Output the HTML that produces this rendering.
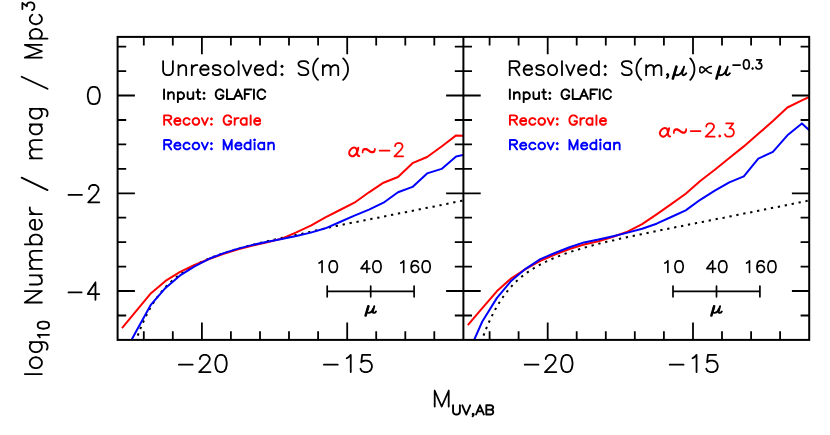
<!DOCTYPE html>
<html><head><meta charset="utf-8"><title>plot</title>
<style>
html,body{margin:0;padding:0;background:#fff;}
body{width:830px;height:435px;overflow:hidden;}
svg{display:block;font-family:"Liberation Sans",sans-serif;}
</style></head><body>
<svg width="830" height="435" viewBox="0 0 830 435">
<rect width="830" height="435" fill="#fff"/>
<defs>
<clipPath id="cl"><rect x="117.6" y="36.9" width="345.8" height="303.0"/></clipPath>
<clipPath id="cr"><rect x="463.4" y="36.9" width="345.8" height="303.0"/></clipPath>
</defs>
<g clip-path="url(#cl)" fill="none" stroke-width="2" stroke-linejoin="round">
<polyline points="117.6,403.1 119.0,396.8 120.5,390.8 121.9,385.0 123.4,379.4 124.8,374.2 126.3,369.1 127.7,364.2 129.2,359.6 130.6,355.1 132.1,350.9 133.5,346.8 135.0,342.9 136.4,339.1 137.9,335.2 139.3,331.5 140.7,327.9 142.2,324.5 143.6,321.2 145.1,318.1 146.5,315.1 148.0,312.3 149.4,309.6 150.9,307.0 152.3,304.6 153.8,302.3 155.2,300.1 156.7,298.0 158.1,296.0 159.6,294.1 161.0,292.3 162.5,290.6 163.9,288.9 165.3,287.3 166.8,285.8 168.2,284.4 169.7,283.0 171.1,281.7 172.6,280.4 174.0,279.1 175.5,277.9 176.9,276.8 178.4,275.6 179.8,274.6 181.3,273.5 182.7,272.5 184.2,271.5 185.6,270.6 187.0,269.7 188.5,268.8 189.9,267.9 191.4,267.1 192.8,266.3 194.3,265.5 195.7,264.8 197.2,264.0 198.6,263.3 200.1,262.6 201.5,261.9 203.0,261.2 204.4,260.6 205.9,259.9 207.3,259.3 208.8,258.7 210.2,258.1 211.6,257.5 213.1,257.0 214.5,256.4 216.0,255.9 217.4,255.3 218.9,254.8 220.3,254.3 221.8,253.8 223.2,253.3 224.7,252.8 226.1,252.3 227.6,251.9 229.0,251.4 230.5,251.0 231.9,250.5 233.3,250.1 234.8,249.6 236.2,249.2 237.7,248.8 239.1,248.4 240.6,248.0 242.0,247.6 243.5,247.2 244.9,246.8 246.4,246.4 247.8,246.0 249.3,245.6 250.7,245.3 252.2,244.9 253.6,244.5 255.1,244.2 256.5,243.8 257.9,243.4 259.4,243.1 260.8,242.7 262.3,242.4 263.7,242.1 265.2,241.7 266.6,241.4 268.1,241.1 269.5,240.7 271.0,240.4 272.4,240.1 273.9,239.7 275.3,239.4 276.8,239.1 278.2,238.8 279.6,238.5 281.1,238.1 282.5,237.8 284.0,237.5 285.4,237.2 286.9,236.9 288.3,236.6 289.8,236.3 291.2,236.0 292.7,235.7 294.1,235.4 295.6,235.1 297.0,234.8 298.5,234.5 299.9,234.2 301.4,233.9 302.8,233.6 304.2,233.3 305.7,232.9 307.1,232.6 308.6,232.2 310.0,231.9 311.5,231.6 312.9,231.2 314.4,230.9 315.8,230.5 317.3,230.2 318.7,229.9 320.2,229.5 321.6,229.2 323.1,228.9 324.5,228.5 325.9,228.2 327.4,227.9 328.8,227.5 330.3,227.2 331.7,226.9 333.2,226.5 334.6,226.3 336.1,226.0 337.5,225.7 339.0,225.4 340.4,225.1 341.9,224.8 343.3,224.5 344.8,224.2 346.2,224.0 347.7,223.7 349.1,223.4 350.5,223.1 352.0,222.8 353.4,222.5 354.9,222.2 356.3,222.0 357.8,221.7 359.2,221.4 360.7,221.1 362.1,220.8 363.6,220.5 365.0,220.2 366.5,220.0 367.9,219.7 369.4,219.4 370.8,219.1 372.2,218.8 373.7,218.5 375.1,218.2 376.6,217.9 378.0,217.7 379.5,217.4 380.9,217.1 382.4,216.8 383.8,216.5 385.3,216.2 386.7,215.9 388.2,215.7 389.6,215.4 391.1,215.1 392.5,214.8 394.0,214.5 395.4,214.2 396.8,213.9 398.3,213.6 399.7,213.3 401.2,213.1 402.6,212.8 404.1,212.5 405.5,212.2 407.0,211.9 408.4,211.6 409.9,211.3 411.3,211.0 412.8,210.7 414.2,210.5 415.7,210.2 417.1,209.9 418.5,209.6 420.0,209.3 421.4,209.0 422.9,208.7 424.3,208.4 425.8,208.1 427.2,207.8 428.7,207.5 430.1,207.2 431.6,207.0 433.0,206.7 434.5,206.4 435.9,206.1 437.4,205.8 438.8,205.5 440.3,205.2 441.7,204.9 443.1,204.6 444.6,204.3 446.0,204.0 447.5,203.7 448.9,203.4 450.4,203.1 451.8,202.8 453.3,202.5 454.7,202.2 456.2,201.9 457.6,201.6 459.1,201.3 460.5,201.1 462.0,200.8 463.4,200.5" stroke="#000" stroke-dasharray="2.3 4.75"/>
<polyline points="122.0,328.2 136.5,310.7 151.0,293.2 165.5,280.9 180.1,271.8 194.6,265.0 209.1,259.0 223.7,253.8 238.2,249.4 252.7,245.5 267.3,242.2 281.8,238.6 296.3,232.4 310.8,225.6 325.4,217.3 339.9,210.0 354.4,202.7 369.0,192.3 383.5,182.7 398.0,177.0 412.5,163.2 427.1,157.0 441.6,146.5 456.1,135.4 470.7,136.0" stroke="#f00"/>
<polyline points="122.0,357.3 136.5,330.8 151.0,304.6 165.5,287.9 180.1,275.4 194.6,266.3 209.1,258.8 223.7,253.1 238.2,248.6 252.7,244.9 267.3,241.7 281.8,238.9 296.3,236.0 310.8,232.6 325.4,228.3 339.9,222.0 354.4,215.6 369.0,209.6 383.5,202.7 398.0,192.3 412.5,186.9 427.1,173.4 441.6,168.9 456.1,156.4 470.7,153.5" stroke="#00f"/>
</g>
<path d="M143.8 339.9v-8.6 M143.8 36.9v8.6 M172.8 339.9v-8.6 M172.8 36.9v8.6 M201.9 339.9v-17.3 M201.9 36.9v17.3 M230.9 339.9v-8.6 M230.9 36.9v8.6 M260.0 339.9v-8.6 M260.0 36.9v8.6 M289.0 339.9v-8.6 M289.0 36.9v8.6 M318.1 339.9v-8.6 M318.1 36.9v8.6 M347.2 339.9v-17.3 M347.2 36.9v17.3 M376.2 339.9v-8.6 M376.2 36.9v8.6 M405.3 339.9v-8.6 M405.3 36.9v8.6 M434.3 339.9v-8.6 M434.3 36.9v8.6 M117.6 46.7h8.6 M463.4 46.7h-8.6 M117.6 71.1h8.6 M463.4 71.1h-8.6 M117.6 95.5h17.3 M463.4 95.5h-17.3 M117.6 120.0h8.6 M463.4 120.0h-8.6 M117.6 144.4h8.6 M463.4 144.4h-8.6 M117.6 168.9h8.6 M463.4 168.9h-8.6 M117.6 193.3h17.3 M463.4 193.3h-17.3 M117.6 217.7h8.6 M463.4 217.7h-8.6 M117.6 242.2h8.6 M463.4 242.2h-8.6 M117.6 266.6h8.6 M463.4 266.6h-8.6 M117.6 291.0h17.3 M463.4 291.0h-17.3 M117.6 315.5h8.6 M463.4 315.5h-8.6" stroke="#000" stroke-width="1.8" fill="none"/>
<g clip-path="url(#cr)" fill="none" stroke-width="2" stroke-linejoin="round">
<polyline points="463.4,403.1 464.8,396.8 466.3,390.8 467.7,385.0 469.2,379.4 470.6,374.2 472.1,369.1 473.5,364.2 475.0,359.6 476.4,355.1 477.9,350.9 479.3,346.8 480.8,342.9 482.2,339.1 483.7,335.2 485.1,331.5 486.5,327.9 488.0,324.5 489.4,321.2 490.9,318.1 492.3,315.1 493.8,312.3 495.2,309.6 496.7,307.0 498.1,304.5 499.6,302.2 501.0,299.9 502.5,297.8 503.9,295.7 505.4,293.7 506.8,291.9 508.3,290.1 509.7,288.3 511.1,286.7 512.6,285.1 514.0,283.6 515.5,282.2 516.9,280.8 518.4,279.5 519.8,278.2 521.3,277.0 522.7,275.9 524.2,274.7 525.6,273.7 527.1,272.6 528.5,271.6 530.0,270.6 531.4,269.7 532.8,268.8 534.3,267.9 535.7,267.0 537.2,266.2 538.6,265.4 540.1,264.6 541.5,263.9 543.0,263.1 544.4,262.4 545.9,261.7 547.3,261.0 548.8,260.3 550.2,259.7 551.7,259.0 553.1,258.4 554.6,257.8 556.0,257.2 557.4,256.6 558.9,256.1 560.3,255.5 561.8,255.0 563.2,254.4 564.7,253.9 566.1,253.4 567.6,252.9 569.0,252.4 570.5,251.9 571.9,251.4 573.4,251.0 574.8,250.5 576.3,250.1 577.7,249.6 579.1,249.2 580.6,248.7 582.0,248.3 583.5,247.9 584.9,247.5 586.4,247.1 587.8,246.7 589.3,246.3 590.7,245.9 592.2,245.5 593.6,245.1 595.1,244.7 596.5,244.4 598.0,244.0 599.4,243.6 600.9,243.3 602.3,242.9 603.7,242.5 605.2,242.2 606.6,241.8 608.1,241.5 609.5,241.2 611.0,240.8 612.4,240.5 613.9,240.2 615.3,239.8 616.8,239.5 618.2,239.2 619.7,238.8 621.1,238.5 622.6,238.2 624.0,237.9 625.4,237.6 626.9,237.2 628.3,236.9 629.8,236.6 631.2,236.3 632.7,236.0 634.1,235.7 635.6,235.4 637.0,235.1 638.5,234.8 639.9,234.5 641.4,234.2 642.8,233.9 644.3,233.6 645.7,233.3 647.2,233.0 648.6,232.7 650.0,232.4 651.5,232.1 652.9,231.8 654.4,231.5 655.8,231.2 657.3,230.9 658.7,230.6 660.2,230.3 661.6,230.0 663.1,229.7 664.5,229.4 666.0,229.1 667.4,228.9 668.9,228.6 670.3,228.3 671.7,228.0 673.2,227.7 674.6,227.4 676.1,227.1 677.5,226.8 679.0,226.5 680.4,226.3 681.9,226.0 683.3,225.7 684.8,225.4 686.2,225.1 687.7,224.8 689.1,224.5 690.6,224.2 692.0,224.0 693.5,223.7 694.9,223.4 696.3,223.1 697.8,222.8 699.2,222.5 700.7,222.2 702.1,222.0 703.6,221.7 705.0,221.4 706.5,221.1 707.9,220.8 709.4,220.5 710.8,220.2 712.3,220.0 713.7,219.7 715.2,219.4 716.6,219.1 718.0,218.8 719.5,218.5 720.9,218.2 722.4,217.9 723.8,217.7 725.3,217.4 726.7,217.1 728.2,216.8 729.6,216.5 731.1,216.2 732.5,215.9 734.0,215.7 735.4,215.4 736.9,215.1 738.3,214.8 739.8,214.5 741.2,214.2 742.6,213.9 744.1,213.6 745.5,213.3 747.0,213.1 748.4,212.8 749.9,212.5 751.3,212.2 752.8,211.9 754.2,211.6 755.7,211.3 757.1,211.0 758.6,210.7 760.0,210.5 761.5,210.2 762.9,209.9 764.3,209.6 765.8,209.3 767.2,209.0 768.7,208.7 770.1,208.4 771.6,208.1 773.0,207.8 774.5,207.5 775.9,207.2 777.4,207.0 778.8,206.7 780.3,206.4 781.7,206.1 783.2,205.8 784.6,205.5 786.1,205.2 787.5,204.9 788.9,204.6 790.4,204.3 791.8,204.0 793.3,203.7 794.7,203.4 796.2,203.1 797.6,202.8 799.1,202.5 800.5,202.2 802.0,201.9 803.4,201.6 804.9,201.3 806.3,201.1 807.8,200.8 809.2,200.5" stroke="#000" stroke-dasharray="2.3 4.75"/>
<polyline points="467.8,325.1 482.3,308.2 496.8,291.3 511.3,278.3 525.9,268.8 540.4,260.9 554.9,254.6 569.5,249.0 584.0,244.5 598.5,241.2 613.1,236.8 627.6,231.7 642.1,224.2 656.6,214.4 671.2,204.1 685.7,193.8 700.2,181.0 714.8,169.7 729.3,158.0 743.8,146.4 758.3,133.8 772.9,121.0 787.4,107.5 801.9,100.3 816.5,93.6" stroke="#f00"/>
<polyline points="467.8,354.2 482.3,321.5 496.8,298.1 511.3,280.7 525.9,268.6 540.4,259.1 554.9,253.0 569.5,247.2 584.0,242.4 598.5,239.5 613.1,236.2 627.6,232.6 642.1,228.7 656.6,223.7 671.2,217.0 685.7,210.4 700.2,199.8 714.8,190.7 729.3,182.3 743.8,176.3 758.3,158.7 772.9,151.8 787.4,135.3 801.9,123.4 816.5,136.7" stroke="#00f"/>
</g>
<path d="M489.6 339.9v-8.6 M489.6 36.9v8.6 M518.6 339.9v-8.6 M518.6 36.9v8.6 M547.7 339.9v-17.3 M547.7 36.9v17.3 M576.7 339.9v-8.6 M576.7 36.9v8.6 M605.8 339.9v-8.6 M605.8 36.9v8.6 M634.8 339.9v-8.6 M634.8 36.9v8.6 M663.9 339.9v-8.6 M663.9 36.9v8.6 M693.0 339.9v-17.3 M693.0 36.9v17.3 M722.0 339.9v-8.6 M722.0 36.9v8.6 M751.1 339.9v-8.6 M751.1 36.9v8.6 M780.1 339.9v-8.6 M780.1 36.9v8.6 M463.4 46.7h8.6 M809.2 46.7h-8.6 M463.4 71.1h8.6 M809.2 71.1h-8.6 M463.4 95.5h17.3 M809.2 95.5h-17.3 M463.4 120.0h8.6 M809.2 120.0h-8.6 M463.4 144.4h8.6 M809.2 144.4h-8.6 M463.4 168.9h8.6 M809.2 168.9h-8.6 M463.4 193.3h17.3 M809.2 193.3h-17.3 M463.4 217.7h8.6 M809.2 217.7h-8.6 M463.4 242.2h8.6 M809.2 242.2h-8.6 M463.4 266.6h8.6 M809.2 266.6h-8.6 M463.4 291.0h17.3 M809.2 291.0h-17.3 M463.4 315.5h8.6 M809.2 315.5h-8.6" stroke="#000" stroke-width="1.8" fill="none"/>
<rect x="117.6" y="36.9" width="691.6" height="303.0" fill="none" stroke="#000" stroke-width="2"/>
<path d="M463.4 36.9V339.9" stroke="#000" stroke-width="2"/>
<g fill="none" stroke-linecap="round" stroke-linejoin="round">
<path d="M164.05 89.55 L164.05 99.00 M168.15 92.32 L168.15 99.00 M168.15 94.23 L169.69 92.80 L170.71 92.32 L172.25 92.32 L173.28 92.80 L173.79 94.23 L173.79 99.00 M177.89 92.32 L177.89 102.15 M177.89 93.75 L178.92 92.80 L179.94 92.32 L181.48 92.32 L182.51 92.80 L183.53 93.75 L184.04 95.18 L184.04 96.14 L183.53 97.57 L182.51 98.52 L181.48 99.00 L179.94 99.00 L178.92 98.52 L177.89 97.57 M187.63 92.32 L187.63 97.09 L188.14 98.52 L189.17 99.00 L190.71 99.00 L191.73 98.52 L193.27 97.09 M193.27 92.32 L193.27 99.00 M197.89 89.55 L197.89 97.09 L198.40 98.52 L199.42 99.00 L200.45 99.00 M196.35 92.32 L199.94 92.32 M204.04 92.70 L203.52 93.15 L204.04 93.60 L204.55 93.15 L204.04 92.70 M204.04 98.10 L203.52 98.55 L204.04 99.00 L204.55 98.55 L204.04 98.10" stroke="#000" stroke-width="1.90"/>
<path d="M223.39 91.80 L222.88 90.90 L221.86 90.00 L220.84 89.55 L218.81 89.55 L217.79 90.00 L216.77 90.90 L216.26 91.80 L215.75 93.15 L215.75 95.40 L216.26 96.75 L216.77 97.65 L217.79 98.55 L218.81 99.00 L220.84 99.00 L221.86 98.55 L222.88 97.65 L223.39 96.75 L223.39 95.40 M220.84 95.40 L223.39 95.40 M226.95 89.55 L226.95 99.00 M226.95 99.00 L233.07 99.00 M238.16 89.55 L234.08 99.00 M238.16 89.55 L242.23 99.00 M235.61 95.85 L240.70 95.85 M244.78 89.55 L244.78 99.00 M244.78 89.55 L251.40 89.55 M244.78 94.05 L248.85 94.05 M253.95 89.55 L253.95 99.00 M265.15 91.80 L264.64 90.90 L263.62 90.00 L262.60 89.55 L260.57 89.55 L259.55 90.00 L258.53 90.90 L258.02 91.80 L257.51 93.15 L257.51 95.40 L258.02 96.75 L258.53 97.65 L259.55 98.55 L260.57 99.00 L262.60 99.00 L263.62 98.55 L264.64 97.65 L265.15 96.75" stroke="#000" stroke-width="1.90"/>
<path d="M164.15 115.35 L164.15 124.80 M164.15 115.35 L168.73 115.35 L170.25 115.80 L170.76 116.25 L171.27 117.15 L171.27 118.05 L170.76 118.95 L170.25 119.40 L168.73 119.85 L164.15 119.85 M167.71 119.85 L171.27 124.80 M174.32 120.98 L180.42 120.98 L180.42 120.03 L179.91 119.08 L179.41 118.60 L178.39 118.12 L176.86 118.12 L175.85 118.60 L174.83 119.55 L174.32 120.98 L174.32 121.94 L174.83 123.37 L175.85 124.32 L176.86 124.80 L178.39 124.80 L179.41 124.32 L180.42 123.37 M189.58 119.55 L188.56 118.60 L187.54 118.12 L186.02 118.12 L185.00 118.60 L183.98 119.55 L183.47 120.98 L183.47 121.94 L183.98 123.37 L185.00 124.32 L186.02 124.80 L187.54 124.80 L188.56 124.32 L189.58 123.37 M195.17 118.12 L194.15 118.60 L193.14 119.55 L192.63 120.98 L192.63 121.94 L193.14 123.37 L194.15 124.32 L195.17 124.80 L196.69 124.80 L197.71 124.32 L198.73 123.37 L199.24 121.94 L199.24 120.98 L198.73 119.55 L197.71 118.60 L196.69 118.12 L195.17 118.12 M201.78 118.12 L204.83 124.80 M207.88 118.12 L204.83 124.80 M211.44 118.50 L210.93 118.95 L211.44 119.40 L211.95 118.95 L211.44 118.50 M211.44 123.90 L210.93 124.35 L211.44 124.80 L211.95 124.35 L211.44 123.90" stroke="#f00" stroke-width="1.90"/>
<path d="M231.15 117.60 L230.65 116.70 L229.65 115.80 L228.65 115.35 L226.65 115.35 L225.65 115.80 L224.65 116.70 L224.15 117.60 L223.65 118.95 L223.65 121.20 L224.15 122.55 L224.65 123.45 L225.65 124.35 L226.65 124.80 L228.65 124.80 L229.65 124.35 L230.65 123.45 L231.15 122.55 L231.15 121.20 M228.65 121.20 L231.15 121.20 M234.65 118.12 L234.65 124.80 M234.65 120.98 L235.15 119.55 L236.15 118.60 L237.15 118.12 L238.65 118.12 M246.65 118.12 L246.65 124.80 M246.65 119.55 L245.65 118.60 L244.65 118.12 L243.15 118.12 L242.15 118.60 L241.15 119.55 L240.65 120.98 L240.65 121.94 L241.15 123.37 L242.15 124.32 L243.15 124.80 L244.65 124.80 L245.65 124.32 L246.65 123.37 M250.65 115.35 L250.65 124.80 M254.15 120.98 L260.15 120.98 L260.15 120.03 L259.65 119.08 L259.15 118.60 L258.15 118.12 L256.65 118.12 L255.65 118.60 L254.65 119.55 L254.15 120.98 L254.15 121.94 L254.65 123.37 L255.65 124.32 L256.65 124.80 L258.15 124.80 L259.15 124.32 L260.15 123.37" stroke="#f00" stroke-width="1.90"/>
<path d="M164.15 139.95 L164.15 149.40 M164.15 139.95 L168.73 139.95 L170.25 140.40 L170.76 140.85 L171.27 141.75 L171.27 142.65 L170.76 143.55 L170.25 144.00 L168.73 144.45 L164.15 144.45 M167.71 144.45 L171.27 149.40 M174.32 145.58 L180.42 145.58 L180.42 144.63 L179.91 143.68 L179.41 143.20 L178.39 142.72 L176.86 142.72 L175.85 143.20 L174.83 144.15 L174.32 145.58 L174.32 146.54 L174.83 147.97 L175.85 148.92 L176.86 149.40 L178.39 149.40 L179.41 148.92 L180.42 147.97 M189.58 144.15 L188.56 143.20 L187.54 142.72 L186.02 142.72 L185.00 143.20 L183.98 144.15 L183.47 145.58 L183.47 146.54 L183.98 147.97 L185.00 148.92 L186.02 149.40 L187.54 149.40 L188.56 148.92 L189.58 147.97 M195.17 142.72 L194.15 143.20 L193.14 144.15 L192.63 145.58 L192.63 146.54 L193.14 147.97 L194.15 148.92 L195.17 149.40 L196.69 149.40 L197.71 148.92 L198.73 147.97 L199.24 146.54 L199.24 145.58 L198.73 144.15 L197.71 143.20 L196.69 142.72 L195.17 142.72 M201.78 142.72 L204.83 149.40 M207.88 142.72 L204.83 149.40 M211.44 143.10 L210.93 143.55 L211.44 144.00 L211.95 143.55 L211.44 143.10 M211.44 148.50 L210.93 148.95 L211.44 149.40 L211.95 148.95 L211.44 148.50" stroke="#00f" stroke-width="1.90"/>
<path d="M223.65 139.95 L223.65 149.40 M223.65 139.95 L227.71 149.40 M231.76 139.95 L227.71 149.40 M231.76 139.95 L231.76 149.40 M235.31 145.58 L241.40 145.58 L241.40 144.63 L240.89 143.68 L240.38 143.20 L239.37 142.72 L237.85 142.72 L236.83 143.20 L235.82 144.15 L235.31 145.58 L235.31 146.54 L235.82 147.97 L236.83 148.92 L237.85 149.40 L239.37 149.40 L240.38 148.92 L241.40 147.97 M250.52 139.95 L250.52 149.40 M250.52 144.15 L249.51 143.20 L248.50 142.72 L246.98 142.72 L245.96 143.20 L244.95 144.15 L244.44 145.58 L244.44 146.54 L244.95 147.97 L245.96 148.92 L246.98 149.40 L248.50 149.40 L249.51 148.92 L250.52 147.97 M254.07 139.95 L254.58 140.35 L255.09 139.95 L254.58 139.55 L254.07 139.95 M254.58 142.72 L254.58 149.40 M264.22 142.72 L264.22 149.40 M264.22 144.15 L263.20 143.20 L262.19 142.72 L260.67 142.72 L259.65 143.20 L258.64 144.15 L258.13 145.58 L258.13 146.54 L258.64 147.97 L259.65 148.92 L260.67 149.40 L262.19 149.40 L263.20 148.92 L264.22 147.97 M268.27 142.72 L268.27 149.40 M268.27 144.63 L269.79 143.20 L270.81 142.72 L272.33 142.72 L273.34 143.20 L273.85 144.63 L273.85 149.40" stroke="#00f" stroke-width="1.90"/>
<path d="M327.2 291.4H414.1 M327.2 286v10.8 M370.7 286v10.8 M414.1 286v10.8" stroke="#000" stroke-width="1.7"/>
<path d="M319.12 263.05 L320.30 262.50 L322.07 260.85 L322.07 272.40 M332.67 260.85 L330.90 261.40 L329.72 263.05 L329.13 265.80 L329.13 267.45 L329.72 270.20 L330.90 271.85 L332.67 272.40 L333.84 272.40 L335.61 271.85 L336.79 270.20 L337.38 267.45 L337.38 265.80 L336.79 263.05 L335.61 261.40 L333.84 260.85 L332.67 260.85" stroke="#000" stroke-width="1.65"/>
<path d="M366.92 260.85 L361.02 268.55 L369.87 268.55 M366.92 260.85 L366.92 272.40 M376.36 260.85 L374.59 261.40 L373.41 263.05 L372.82 265.80 L372.82 267.45 L373.41 270.20 L374.59 271.85 L376.36 272.40 L377.54 272.40 L379.31 271.85 L380.49 270.20 L381.07 267.45 L381.07 265.80 L380.49 263.05 L379.31 261.40 L377.54 260.85 L376.36 260.85" stroke="#000" stroke-width="1.65"/>
<path d="M400.82 263.05 L401.98 262.50 L403.70 260.85 L403.70 272.40 M418.09 262.50 L417.51 261.40 L415.79 260.85 L414.64 260.85 L412.91 261.40 L411.76 263.05 L411.18 265.80 L411.18 268.55 L411.76 270.75 L412.91 271.85 L414.64 272.40 L415.21 272.40 L416.94 271.85 L418.09 270.75 L418.67 269.10 L418.67 268.55 L418.09 266.90 L416.94 265.80 L415.21 265.25 L414.64 265.25 L412.91 265.80 L411.76 266.90 L411.18 268.55 M425.57 260.85 L423.84 261.40 L422.69 263.05 L422.12 265.80 L422.12 267.45 L422.69 270.20 L423.84 271.85 L425.57 272.40 L426.72 272.40 L428.45 271.85 L429.60 270.20 L430.18 267.45 L430.18 265.80 L429.60 263.05 L428.45 261.40 L426.72 260.85 L425.57 260.85" stroke="#000" stroke-width="1.65"/>
<g transform="translate(364.9,312.9) scale(0.660)" stroke="#000"><path d="M5.2 -10L1.0 4.0" stroke-width="3.79"/><path d="M5.2 -10L3.4 -3.6C2.8 -1.2 3.8 0 5.8 0C8.6 0 11.2 -2.6 12.6 -6.4" stroke-width="2.95"/><path d="M14.2 -10L12.3 -3.4C11.7 -1.2 12.2 0 13.6 0C14.8 0 15.9 -0.8 16.8 -2.2" stroke-width="2.95"/></g>
<path d="M178.90 364.72 L192.67 364.72 M199.96 359.03 L199.96 358.21 L200.77 356.58 L201.58 355.77 L203.21 354.96 L206.45 354.96 L208.07 355.77 L208.88 356.58 L209.69 358.21 L209.69 359.84 L208.88 361.47 L207.26 363.91 L199.15 372.05 L210.50 372.05 M220.22 354.96 L217.79 355.77 L216.17 358.21 L215.36 362.28 L215.36 364.72 L216.17 368.79 L217.79 371.24 L220.22 372.05 L221.84 372.05 L224.27 371.24 L225.89 368.79 L226.70 364.72 L226.70 362.28 L225.89 358.21 L224.27 355.77 L221.84 354.96 L220.22 354.96" stroke="#000" stroke-width="1.80"/>
<path d="M323.90 364.72 L337.73 364.72 M346.68 358.21 L348.31 357.40 L350.75 354.96 L350.75 372.05 M370.27 354.96 L362.14 354.96 L361.32 362.28 L362.14 361.47 L364.58 360.65 L367.02 360.65 L369.46 361.47 L371.09 363.10 L371.90 365.54 L371.90 367.17 L371.09 369.61 L369.46 371.24 L367.02 372.05 L364.58 372.05 L362.14 371.24 L361.32 370.42 L360.51 368.79" stroke="#000" stroke-width="1.80"/>
<path d="M509.85 89.55 L509.85 99.00 M513.95 92.32 L513.95 99.00 M513.95 94.23 L515.49 92.80 L516.51 92.32 L518.05 92.32 L519.08 92.80 L519.59 94.23 L519.59 99.00 M523.69 92.32 L523.69 102.15 M523.69 93.75 L524.72 92.80 L525.74 92.32 L527.28 92.32 L528.31 92.80 L529.33 93.75 L529.84 95.18 L529.84 96.14 L529.33 97.57 L528.31 98.52 L527.28 99.00 L525.74 99.00 L524.72 98.52 L523.69 97.57 M533.43 92.32 L533.43 97.09 L533.94 98.52 L534.97 99.00 L536.51 99.00 L537.53 98.52 L539.07 97.09 M539.07 92.32 L539.07 99.00 M543.69 89.55 L543.69 97.09 L544.20 98.52 L545.22 99.00 L546.25 99.00 M542.15 92.32 L545.74 92.32 M549.84 92.70 L549.32 93.15 L549.84 93.60 L550.35 93.15 L549.84 92.70 M549.84 98.10 L549.32 98.55 L549.84 99.00 L550.35 98.55 L549.84 98.10" stroke="#000" stroke-width="1.90"/>
<path d="M569.19 91.80 L568.68 90.90 L567.66 90.00 L566.64 89.55 L564.61 89.55 L563.59 90.00 L562.57 90.90 L562.06 91.80 L561.55 93.15 L561.55 95.40 L562.06 96.75 L562.57 97.65 L563.59 98.55 L564.61 99.00 L566.64 99.00 L567.66 98.55 L568.68 97.65 L569.19 96.75 L569.19 95.40 M566.64 95.40 L569.19 95.40 M572.75 89.55 L572.75 99.00 M572.75 99.00 L578.87 99.00 M583.96 89.55 L579.88 99.00 M583.96 89.55 L588.03 99.00 M581.41 95.85 L586.50 95.85 M590.58 89.55 L590.58 99.00 M590.58 89.55 L597.20 89.55 M590.58 94.05 L594.65 94.05 M599.75 89.55 L599.75 99.00 M610.95 91.80 L610.44 90.90 L609.42 90.00 L608.40 89.55 L606.37 89.55 L605.35 90.00 L604.33 90.90 L603.82 91.80 L603.31 93.15 L603.31 95.40 L603.82 96.75 L604.33 97.65 L605.35 98.55 L606.37 99.00 L608.40 99.00 L609.42 98.55 L610.44 97.65 L610.95 96.75" stroke="#000" stroke-width="1.90"/>
<path d="M509.95 115.35 L509.95 124.80 M509.95 115.35 L514.53 115.35 L516.05 115.80 L516.56 116.25 L517.07 117.15 L517.07 118.05 L516.56 118.95 L516.05 119.40 L514.53 119.85 L509.95 119.85 M513.51 119.85 L517.07 124.80 M520.12 120.98 L526.22 120.98 L526.22 120.03 L525.71 119.08 L525.21 118.60 L524.19 118.12 L522.66 118.12 L521.65 118.60 L520.63 119.55 L520.12 120.98 L520.12 121.94 L520.63 123.37 L521.65 124.32 L522.66 124.80 L524.19 124.80 L525.21 124.32 L526.22 123.37 M535.38 119.55 L534.36 118.60 L533.34 118.12 L531.82 118.12 L530.80 118.60 L529.78 119.55 L529.27 120.98 L529.27 121.94 L529.78 123.37 L530.80 124.32 L531.82 124.80 L533.34 124.80 L534.36 124.32 L535.38 123.37 M540.97 118.12 L539.95 118.60 L538.94 119.55 L538.43 120.98 L538.43 121.94 L538.94 123.37 L539.95 124.32 L540.97 124.80 L542.49 124.80 L543.51 124.32 L544.53 123.37 L545.04 121.94 L545.04 120.98 L544.53 119.55 L543.51 118.60 L542.49 118.12 L540.97 118.12 M547.58 118.12 L550.63 124.80 M553.68 118.12 L550.63 124.80 M557.24 118.50 L556.73 118.95 L557.24 119.40 L557.75 118.95 L557.24 118.50 M557.24 123.90 L556.73 124.35 L557.24 124.80 L557.75 124.35 L557.24 123.90" stroke="#f00" stroke-width="1.90"/>
<path d="M576.95 117.60 L576.45 116.70 L575.45 115.80 L574.45 115.35 L572.45 115.35 L571.45 115.80 L570.45 116.70 L569.95 117.60 L569.45 118.95 L569.45 121.20 L569.95 122.55 L570.45 123.45 L571.45 124.35 L572.45 124.80 L574.45 124.80 L575.45 124.35 L576.45 123.45 L576.95 122.55 L576.95 121.20 M574.45 121.20 L576.95 121.20 M580.45 118.12 L580.45 124.80 M580.45 120.98 L580.95 119.55 L581.95 118.60 L582.95 118.12 L584.45 118.12 M592.45 118.12 L592.45 124.80 M592.45 119.55 L591.45 118.60 L590.45 118.12 L588.95 118.12 L587.95 118.60 L586.95 119.55 L586.45 120.98 L586.45 121.94 L586.95 123.37 L587.95 124.32 L588.95 124.80 L590.45 124.80 L591.45 124.32 L592.45 123.37 M596.45 115.35 L596.45 124.80 M599.95 120.98 L605.95 120.98 L605.95 120.03 L605.45 119.08 L604.95 118.60 L603.95 118.12 L602.45 118.12 L601.45 118.60 L600.45 119.55 L599.95 120.98 L599.95 121.94 L600.45 123.37 L601.45 124.32 L602.45 124.80 L603.95 124.80 L604.95 124.32 L605.95 123.37" stroke="#f00" stroke-width="1.90"/>
<path d="M509.95 139.95 L509.95 149.40 M509.95 139.95 L514.53 139.95 L516.05 140.40 L516.56 140.85 L517.07 141.75 L517.07 142.65 L516.56 143.55 L516.05 144.00 L514.53 144.45 L509.95 144.45 M513.51 144.45 L517.07 149.40 M520.12 145.58 L526.22 145.58 L526.22 144.63 L525.71 143.68 L525.21 143.20 L524.19 142.72 L522.66 142.72 L521.65 143.20 L520.63 144.15 L520.12 145.58 L520.12 146.54 L520.63 147.97 L521.65 148.92 L522.66 149.40 L524.19 149.40 L525.21 148.92 L526.22 147.97 M535.38 144.15 L534.36 143.20 L533.34 142.72 L531.82 142.72 L530.80 143.20 L529.78 144.15 L529.27 145.58 L529.27 146.54 L529.78 147.97 L530.80 148.92 L531.82 149.40 L533.34 149.40 L534.36 148.92 L535.38 147.97 M540.97 142.72 L539.95 143.20 L538.94 144.15 L538.43 145.58 L538.43 146.54 L538.94 147.97 L539.95 148.92 L540.97 149.40 L542.49 149.40 L543.51 148.92 L544.53 147.97 L545.04 146.54 L545.04 145.58 L544.53 144.15 L543.51 143.20 L542.49 142.72 L540.97 142.72 M547.58 142.72 L550.63 149.40 M553.68 142.72 L550.63 149.40 M557.24 143.10 L556.73 143.55 L557.24 144.00 L557.75 143.55 L557.24 143.10 M557.24 148.50 L556.73 148.95 L557.24 149.40 L557.75 148.95 L557.24 148.50" stroke="#00f" stroke-width="1.90"/>
<path d="M569.45 139.95 L569.45 149.40 M569.45 139.95 L573.51 149.40 M577.56 139.95 L573.51 149.40 M577.56 139.95 L577.56 149.40 M581.11 145.58 L587.20 145.58 L587.20 144.63 L586.69 143.68 L586.18 143.20 L585.17 142.72 L583.65 142.72 L582.63 143.20 L581.62 144.15 L581.11 145.58 L581.11 146.54 L581.62 147.97 L582.63 148.92 L583.65 149.40 L585.17 149.40 L586.18 148.92 L587.20 147.97 M596.32 139.95 L596.32 149.40 M596.32 144.15 L595.31 143.20 L594.30 142.72 L592.78 142.72 L591.76 143.20 L590.75 144.15 L590.24 145.58 L590.24 146.54 L590.75 147.97 L591.76 148.92 L592.78 149.40 L594.30 149.40 L595.31 148.92 L596.32 147.97 M599.87 139.95 L600.38 140.35 L600.89 139.95 L600.38 139.55 L599.87 139.95 M600.38 142.72 L600.38 149.40 M610.02 142.72 L610.02 149.40 M610.02 144.15 L609.00 143.20 L607.99 142.72 L606.47 142.72 L605.45 143.20 L604.44 144.15 L603.93 145.58 L603.93 146.54 L604.44 147.97 L605.45 148.92 L606.47 149.40 L607.99 149.40 L609.00 148.92 L610.02 147.97 M614.07 142.72 L614.07 149.40 M614.07 144.63 L615.59 143.20 L616.61 142.72 L618.13 142.72 L619.14 143.20 L619.65 144.63 L619.65 149.40" stroke="#00f" stroke-width="1.90"/>
<path d="M673.0 291.4H759.9 M673.0 286v10.8 M716.5 286v10.8 M759.9 286v10.8" stroke="#000" stroke-width="1.7"/>
<path d="M664.92 263.05 L666.10 262.50 L667.87 260.85 L667.87 272.40 M678.47 260.85 L676.70 261.40 L675.52 263.05 L674.93 265.80 L674.93 267.45 L675.52 270.20 L676.70 271.85 L678.47 272.40 L679.64 272.40 L681.41 271.85 L682.59 270.20 L683.18 267.45 L683.18 265.80 L682.59 263.05 L681.41 261.40 L679.64 260.85 L678.47 260.85" stroke="#000" stroke-width="1.65"/>
<path d="M712.72 260.85 L706.83 268.55 L715.67 268.55 M712.72 260.85 L712.72 272.40 M722.16 260.85 L720.39 261.40 L719.21 263.05 L718.62 265.80 L718.62 267.45 L719.21 270.20 L720.39 271.85 L722.16 272.40 L723.34 272.40 L725.11 271.85 L726.29 270.20 L726.88 267.45 L726.88 265.80 L726.29 263.05 L725.11 261.40 L723.34 260.85 L722.16 260.85" stroke="#000" stroke-width="1.65"/>
<path d="M746.62 263.05 L747.78 262.50 L749.50 260.85 L749.50 272.40 M763.89 262.50 L763.31 261.40 L761.59 260.85 L760.44 260.85 L758.71 261.40 L757.56 263.05 L756.98 265.80 L756.98 268.55 L757.56 270.75 L758.71 271.85 L760.44 272.40 L761.01 272.40 L762.74 271.85 L763.89 270.75 L764.47 269.10 L764.47 268.55 L763.89 266.90 L762.74 265.80 L761.01 265.25 L760.44 265.25 L758.71 265.80 L757.56 266.90 L756.98 268.55 M771.37 260.85 L769.64 261.40 L768.49 263.05 L767.92 265.80 L767.92 267.45 L768.49 270.20 L769.64 271.85 L771.37 272.40 L772.52 272.40 L774.25 271.85 L775.40 270.20 L775.97 267.45 L775.97 265.80 L775.40 263.05 L774.25 261.40 L772.52 260.85 L771.37 260.85" stroke="#000" stroke-width="1.65"/>
<g transform="translate(710.7,312.9) scale(0.660)" stroke="#000"><path d="M5.2 -10L1.0 4.0" stroke-width="3.79"/><path d="M5.2 -10L3.4 -3.6C2.8 -1.2 3.8 0 5.8 0C8.6 0 11.2 -2.6 12.6 -6.4" stroke-width="2.95"/><path d="M14.2 -10L12.3 -3.4C11.7 -1.2 12.2 0 13.6 0C14.8 0 15.9 -0.8 16.8 -2.2" stroke-width="2.95"/></g>
<path d="M524.70 364.72 L538.47 364.72 M545.76 359.03 L545.76 358.21 L546.57 356.58 L547.38 355.77 L549.01 354.96 L552.25 354.96 L553.87 355.77 L554.68 356.58 L555.49 358.21 L555.49 359.84 L554.68 361.47 L553.06 363.91 L544.95 372.05 L556.30 372.05 M566.02 354.96 L563.59 355.77 L561.97 358.21 L561.16 362.28 L561.16 364.72 L561.97 368.79 L563.59 371.24 L566.02 372.05 L567.64 372.05 L570.07 371.24 L571.69 368.79 L572.50 364.72 L572.50 362.28 L571.69 358.21 L570.07 355.77 L567.64 354.96 L566.02 354.96" stroke="#000" stroke-width="1.80"/>
<path d="M669.70 364.72 L683.53 364.72 M692.48 358.21 L694.11 357.40 L696.55 354.96 L696.55 372.05 M716.07 354.96 L707.94 354.96 L707.12 362.28 L707.94 361.47 L710.38 360.65 L712.82 360.65 L715.26 361.47 L716.89 363.10 L717.70 365.54 L717.70 367.17 L716.89 369.61 L715.26 371.24 L712.82 372.05 L710.38 372.05 L707.94 371.24 L707.12 370.42 L706.31 368.79" stroke="#000" stroke-width="1.80"/>
<path d="M163.10 61.03 L163.10 71.15 L163.80 73.17 L165.20 74.53 L167.30 75.20 L168.70 75.20 L170.79 74.53 L172.19 73.17 L172.89 71.15 L172.89 61.03 M178.49 65.18 L178.49 75.20 M178.49 68.05 L180.59 65.90 L181.98 65.18 L184.08 65.18 L185.48 65.90 L186.18 68.05 L186.18 75.20 M191.78 65.18 L191.78 75.20 M191.78 69.48 L192.48 67.33 L193.87 65.90 L195.27 65.18 L197.37 65.18 M200.17 69.48 L208.56 69.48 L208.56 68.05 L207.86 66.61 L207.16 65.90 L205.76 65.18 L203.67 65.18 L202.27 65.90 L200.87 67.33 L200.17 69.48 L200.17 70.91 L200.87 73.05 L202.27 74.48 L203.67 75.20 L205.76 75.20 L207.16 74.48 L208.56 73.05 M220.45 67.33 L219.75 65.90 L217.65 65.18 L215.56 65.18 L213.46 65.90 L212.76 67.33 L213.46 68.76 L214.86 69.48 L218.35 70.19 L219.75 70.91 L220.45 72.34 L220.45 73.05 L219.75 74.48 L217.65 75.20 L215.56 75.20 L213.46 74.48 L212.76 73.05 M228.15 65.18 L226.75 65.90 L225.35 67.33 L224.65 69.48 L224.65 70.91 L225.35 73.05 L226.75 74.48 L228.15 75.20 L230.24 75.20 L231.64 74.48 L233.04 73.05 L233.74 70.91 L233.74 69.48 L233.04 67.33 L231.64 65.90 L230.24 65.18 L228.15 65.18 M238.64 61.03 L238.64 75.20 M242.83 65.18 L247.03 75.20 M251.23 65.18 L247.03 75.20 M254.72 69.48 L263.12 69.48 L263.12 68.05 L262.42 66.61 L261.72 65.90 L260.32 65.18 L258.22 65.18 L256.82 65.90 L255.42 67.33 L254.72 69.48 L254.72 70.91 L255.42 73.05 L256.82 74.48 L258.22 75.20 L260.32 75.20 L261.72 74.48 L263.12 73.05 M275.71 61.03 L275.71 75.20 M275.71 67.33 L274.31 65.90 L272.91 65.18 L270.81 65.18 L269.41 65.90 L268.01 67.33 L267.31 69.48 L267.31 70.91 L268.01 73.05 L269.41 74.48 L270.81 75.20 L272.91 75.20 L274.31 74.48 L275.71 73.05 M282.00 65.75 L281.30 66.42 L282.00 67.10 L282.70 66.42 L282.00 65.75 M282.00 73.85 L281.30 74.53 L282.00 75.20 L282.70 74.53 L282.00 73.85" stroke="#000" stroke-width="1.80"/>
<path d="M308.26 63.05 L306.87 61.70 L304.77 61.03 L301.99 61.03 L299.89 61.70 L298.50 63.05 L298.50 64.40 L299.20 65.75 L299.89 66.42 L301.29 67.10 L305.47 68.45 L306.87 69.12 L307.56 69.80 L308.26 71.15 L308.26 73.17 L306.87 74.53 L304.77 75.20 L301.99 75.20 L299.89 74.53 L298.50 73.17 M318.02 58.33 L316.63 59.68 L315.23 61.70 L313.84 64.40 L313.14 67.78 L313.14 70.48 L313.84 73.85 L315.23 76.55 L316.63 78.58 L318.02 79.92 M322.90 65.18 L322.90 75.20 M322.90 68.05 L324.99 65.90 L326.39 65.18 L328.48 65.18 L329.87 65.90 L330.57 68.05 L330.57 75.20 M330.57 68.05 L332.66 65.90 L334.06 65.18 L336.15 65.18 L337.54 65.90 L338.24 68.05 L338.24 75.20 M343.12 58.33 L344.51 59.68 L345.91 61.70 L347.30 64.40 L348.00 67.78 L348.00 70.48 L347.30 73.85 L345.91 76.55 L344.51 78.58 L343.12 79.92" stroke="#000" stroke-width="1.80"/>
<path d="M509.70 61.03 L509.70 75.20 M509.70 61.03 L515.97 61.03 L518.07 61.70 L518.76 62.38 L519.46 63.73 L519.46 65.08 L518.76 66.42 L518.07 67.10 L515.97 67.78 L509.70 67.78 M514.58 67.78 L519.46 75.20 M523.64 69.48 L532.01 69.48 L532.01 68.05 L531.31 66.61 L530.61 65.90 L529.22 65.18 L527.13 65.18 L525.73 65.90 L524.34 67.33 L523.64 69.48 L523.64 70.91 L524.34 73.05 L525.73 74.48 L527.13 75.20 L529.22 75.20 L530.61 74.48 L532.01 73.05 M543.86 67.33 L543.16 65.90 L541.07 65.18 L538.98 65.18 L536.89 65.90 L536.19 67.33 L536.89 68.76 L538.28 69.48 L541.77 70.19 L543.16 70.91 L543.86 72.34 L543.86 73.05 L543.16 74.48 L541.07 75.20 L538.98 75.20 L536.89 74.48 L536.19 73.05 M551.53 65.18 L550.13 65.90 L548.74 67.33 L548.04 69.48 L548.04 70.91 L548.74 73.05 L550.13 74.48 L551.53 75.20 L553.62 75.20 L555.01 74.48 L556.41 73.05 L557.10 70.91 L557.10 69.48 L556.41 67.33 L555.01 65.90 L553.62 65.18 L551.53 65.18 M561.98 61.03 L561.98 75.20 M566.17 65.18 L570.35 75.20 M574.53 65.18 L570.35 75.20 M578.02 69.48 L586.38 69.48 L586.38 68.05 L585.68 66.61 L584.99 65.90 L583.59 65.18 L581.50 65.18 L580.11 65.90 L578.71 67.33 L578.02 69.48 L578.02 70.91 L578.71 73.05 L580.11 74.48 L581.50 75.20 L583.59 75.20 L584.99 74.48 L586.38 73.05 M598.93 61.03 L598.93 75.20 M598.93 67.33 L597.53 65.90 L596.14 65.18 L594.05 65.18 L592.66 65.90 L591.26 67.33 L590.56 69.48 L590.56 70.91 L591.26 73.05 L592.66 74.48 L594.05 75.20 L596.14 75.20 L597.53 74.48 L598.93 73.05 M605.20 65.75 L604.51 66.42 L605.20 67.10 L605.90 66.42 L605.20 65.75 M605.20 73.85 L604.51 74.53 L605.20 75.20 L605.90 74.53 L605.20 73.85" stroke="#000" stroke-width="1.80"/>
<path d="M631.60 63.05 L630.21 61.70 L628.13 61.03 L625.36 61.03 L623.29 61.70 L621.90 63.05 L621.90 64.40 L622.59 65.75 L623.29 66.42 L624.67 67.10 L628.83 68.45 L630.21 69.12 L630.90 69.80 L631.60 71.15 L631.60 73.17 L630.21 74.53 L628.13 75.20 L625.36 75.20 L623.29 74.53 L621.90 73.17 M641.29 58.33 L639.91 59.68 L638.52 61.70 L637.14 64.40 L636.44 67.78 L636.44 70.48 L637.14 73.85 L638.52 76.55 L639.91 78.58 L641.29 79.92 M646.14 65.18 L646.14 75.20 M646.14 68.05 L648.22 65.90 L649.60 65.18 L651.68 65.18 L653.06 65.90 L653.76 68.05 L653.76 75.20 M653.76 68.05 L655.83 65.90 L657.22 65.18 L659.30 65.18 L660.68 65.90 L661.37 68.05 L661.37 75.20 M668.30 74.53 L667.61 75.20 L666.91 74.53 L667.61 73.85 L668.30 74.53 L668.30 75.88 L667.61 77.23 L666.91 77.90" stroke="#000" stroke-width="1.80"/>
<g transform="translate(672.0,75.2) scale(0.850)" stroke="#000"><path d="M5.2 -10L1.0 4.0" stroke-width="3.06"/><path d="M5.2 -10L3.4 -3.6C2.8 -1.2 3.8 0 5.8 0C8.6 0 11.2 -2.6 12.6 -6.4" stroke-width="2.24"/><path d="M14.2 -10L12.3 -3.4C11.7 -1.2 12.2 0 13.6 0C14.8 0 15.9 -0.8 16.8 -2.2" stroke-width="2.24"/></g>
<path d="M690.20 58.33 L691.40 59.68 L692.60 61.70 L693.80 64.40 L694.40 67.78 L694.40 70.48 L693.80 73.85 L692.60 76.55 L691.40 78.58 L690.20 79.92" stroke="#000" stroke-width="1.80"/>
<path d="M711.4 66.4C709 66.4 707 68 705.5 69.8C704 71.6 702.8 72.9 701.5 72.9C700 72.9 699.7 71 699.7 69.8C699.7 68.5 700.2 66.7 701.7 66.7C703 66.7 704.2 68 705.5 69.8C707 71.6 709 73.2 711.4 73.2" stroke="#000" stroke-width="1.5"/>
<g transform="translate(715.6,75.2) scale(0.850)" stroke="#000"><path d="M5.2 -10L1.0 4.0" stroke-width="3.06"/><path d="M5.2 -10L3.4 -3.6C2.8 -1.2 3.8 0 5.8 0C8.6 0 11.2 -2.6 12.6 -6.4" stroke-width="2.24"/><path d="M14.2 -10L12.3 -3.4C11.7 -1.2 12.2 0 13.6 0C14.8 0 15.9 -0.8 16.8 -2.2" stroke-width="2.24"/></g>
<path d="M733.05 65.06 L740.12 65.06 M745.94 59.80 L744.70 60.24 L743.86 61.55 L743.45 63.74 L743.45 65.06 L743.86 67.25 L744.70 68.56 L745.94 69.00 L746.78 69.00 L748.02 68.56 L748.86 67.25 L749.27 65.06 L749.27 63.74 L748.86 61.55 L748.02 60.24 L746.78 59.80 L745.94 59.80 M752.60 68.12 L752.18 68.56 L752.60 69.00 L753.02 68.56 L752.60 68.12 M756.76 59.80 L761.33 59.80 L758.84 63.31 L760.09 63.31 L760.92 63.74 L761.33 64.18 L761.75 65.50 L761.75 66.37 L761.33 67.69 L760.50 68.56 L759.25 69.00 L758.01 69.00 L756.76 68.56 L756.34 68.12 L755.93 67.25" stroke="#000" stroke-width="1.70"/>
<g transform="translate(347.9,156.1) scale(0.950)" stroke="#f00" stroke-width="2.1"><path d="M10.96 -8.70C10.75 -7.93 10.40 -5.43 9.70 -4.06C9.00 -2.69 7.73 -1.18 6.75 -0.50C5.77 0.18 4.71 0.38 3.80 0.00C2.89 -0.38 1.48 -1.70 1.27 -2.80C1.06 -3.90 1.69 -5.57 2.53 -6.60C3.37 -7.62 5.24 -8.82 6.33 -8.95C7.42 -9.08 8.54 -8.36 9.10 -7.40C9.66 -6.44 9.47 -4.35 9.70 -3.20C9.93 -2.05 10.12 -1.03 10.50 -0.50C10.88 0.03 11.75 -0.08 12.00 0.00"/></g>
<path d="M362.65 152.52 L362.65 151.26 L363.33 149.37 L364.68 148.74 L366.04 148.74 L367.39 149.37 L370.11 151.26 L371.46 151.89 L372.82 151.89 L374.17 151.26 L374.85 150.00 M362.65 151.26 L363.33 150.00 L364.68 149.37 L366.04 149.37 L367.39 150.00 L370.11 151.89 L371.46 152.52 L372.82 152.52 L374.17 151.89 L374.85 150.00 L374.85 148.74" stroke="#f00" stroke-width="1.70"/>
<path d="M379.75 150.63 L389.45 150.63" stroke="#f00" stroke-width="1.70"/>
<path d="M395.07 146.22 L395.07 145.59 L395.69 144.33 L396.31 143.70 L397.56 143.07 L400.04 143.07 L401.29 143.70 L401.91 144.33 L402.53 145.59 L402.53 146.85 L401.91 148.11 L400.66 150.00 L394.45 156.30 L403.15 156.30" stroke="#f00" stroke-width="1.70"/>
<g transform="translate(658.7,136.5) scale(0.950)" stroke="#f00" stroke-width="2.1"><path d="M10.96 -8.70C10.75 -7.93 10.40 -5.43 9.70 -4.06C9.00 -2.69 7.73 -1.18 6.75 -0.50C5.77 0.18 4.71 0.38 3.80 0.00C2.89 -0.38 1.48 -1.70 1.27 -2.80C1.06 -3.90 1.69 -5.57 2.53 -6.60C3.37 -7.62 5.24 -8.82 6.33 -8.95C7.42 -9.08 8.54 -8.36 9.10 -7.40C9.66 -6.44 9.47 -4.35 9.70 -3.20C9.93 -2.05 10.12 -1.03 10.50 -0.50C10.88 0.03 11.75 -0.08 12.00 0.00"/></g>
<path d="M673.85 132.92 L673.85 131.66 L674.53 129.77 L675.90 129.14 L677.27 129.14 L678.63 129.77 L681.37 131.66 L682.73 132.29 L684.10 132.29 L685.47 131.66 L686.15 130.40 M673.85 131.66 L674.53 130.40 L675.90 129.77 L677.27 129.77 L678.63 130.40 L681.37 132.29 L682.73 132.92 L684.10 132.92 L685.47 132.29 L686.15 130.40 L686.15 129.14" stroke="#f00" stroke-width="1.70"/>
<path d="M690.75 131.03 L700.55 131.03" stroke="#f00" stroke-width="1.70"/>
<path d="M706.29 126.62 L706.29 125.99 L706.93 124.73 L707.57 124.10 L708.85 123.47 L711.42 123.47 L712.70 124.10 L713.34 124.73 L713.98 125.99 L713.98 127.25 L713.34 128.51 L712.06 130.40 L705.65 136.70 L714.62 136.70 M719.75 135.44 L719.11 136.07 L719.75 136.70 L720.39 136.07 L719.75 135.44 M726.16 123.47 L733.21 123.47 L729.36 128.51 L731.29 128.51 L732.57 129.14 L733.21 129.77 L733.85 131.66 L733.85 132.92 L733.21 134.81 L731.93 136.07 L730.00 136.70 L728.08 136.70 L726.16 136.07 L725.52 135.44 L724.88 134.18" stroke="#f00" stroke-width="1.70"/>
<path d="M92.94 86.88 L90.37 87.70 L88.66 90.18 L87.80 94.30 L87.80 96.78 L88.66 100.90 L90.37 103.38 L92.94 104.20 L94.66 104.20 L97.23 103.38 L98.94 100.90 L99.80 96.78 L99.80 94.30 L98.94 90.18 L97.23 87.70 L94.66 86.88 L92.94 86.88" stroke="#000" stroke-width="1.80"/>
<path d="M68.50 194.88 L81.93 194.88 M89.03 189.10 L89.03 188.28 L89.82 186.62 L90.61 185.80 L92.19 184.98 L95.35 184.98 L96.93 185.80 L97.72 186.62 L98.51 188.28 L98.51 189.93 L97.72 191.58 L96.14 194.05 L88.24 202.30 L99.30 202.30" stroke="#000" stroke-width="1.80"/>
<path d="M68.50 292.38 L81.59 292.38 M95.45 282.48 L87.75 294.03 L99.30 294.03 M95.45 282.48 L95.45 299.80" stroke="#000" stroke-width="1.80"/>
<g transform="translate(41.85,375) rotate(-90)">
<path d="M0.90 -17.01 L0.90 0.00 M11.01 -12.02 L9.32 -11.16 L7.64 -9.44 L6.79 -6.87 L6.79 -5.15 L7.64 -2.58 L9.32 -0.86 L11.01 0.00 L13.53 0.00 L15.22 -0.86 L16.90 -2.58 L17.74 -5.15 L17.74 -6.87 L16.90 -9.44 L15.22 -11.16 L13.53 -12.02 L11.01 -12.02 M32.90 -12.02 L32.90 1.62 L32.06 4.05 L31.22 4.86 L29.53 5.67 L27.01 5.67 L25.32 4.86 M32.90 -9.44 L31.22 -11.16 L29.53 -12.02 L27.01 -12.02 L25.32 -11.16 L23.64 -9.44 L22.79 -6.87 L22.79 -5.15 L23.64 -2.58 L25.32 -0.86 L27.01 0.00 L29.53 0.00 L31.22 -0.86 L32.90 -2.58" stroke="#000" stroke-width="1.80"/>
<path d="M37.60 -1.98 L38.62 -2.52 L40.15 -4.14 L40.15 7.20 M49.32 -4.14 L47.79 -3.60 L46.77 -1.98 L46.26 0.72 L46.26 2.34 L46.77 5.04 L47.79 6.66 L49.32 7.20 L50.34 7.20 L51.87 6.66 L52.89 5.04 L53.40 2.34 L53.40 0.72 L52.89 -1.98 L51.87 -3.60 L50.34 -4.14 L49.32 -4.14" stroke="#000" stroke-width="1.80"/>
<path d="M72.50 -17.01 L72.50 0.00 M72.50 -17.01 L83.97 0.00 M83.97 -17.01 L83.97 0.00 M90.52 -12.02 L90.52 -3.43 L91.34 -0.86 L92.97 0.00 L95.43 0.00 L97.07 -0.86 L99.53 -3.43 M99.53 -12.02 L99.53 0.00 M106.08 -12.02 L106.08 0.00 M106.08 -8.59 L108.53 -11.16 L110.17 -12.02 L112.63 -12.02 L114.27 -11.16 L115.09 -8.59 L115.09 0.00 M115.09 -8.59 L117.54 -11.16 L119.18 -12.02 L121.64 -12.02 L123.28 -11.16 L124.09 -8.59 L124.09 0.00 M130.65 -17.01 L130.65 0.00 M130.65 -9.44 L132.28 -11.16 L133.92 -12.02 L136.38 -12.02 L138.02 -11.16 L139.66 -9.44 L140.47 -6.87 L140.47 -5.15 L139.66 -2.58 L138.02 -0.86 L136.38 0.00 L133.92 0.00 L132.28 -0.86 L130.65 -2.58 M145.39 -6.87 L155.22 -6.87 L155.22 -8.59 L154.40 -10.30 L153.58 -11.16 L151.94 -12.02 L149.48 -12.02 L147.84 -11.16 L146.21 -9.44 L145.39 -6.87 L145.39 -5.15 L146.21 -2.58 L147.84 -0.86 L149.48 0.00 L151.94 0.00 L153.58 -0.86 L155.22 -2.58 M160.95 -12.02 L160.95 0.00 M160.95 -6.87 L161.77 -9.44 L163.41 -11.16 L165.04 -12.02 L167.50 -12.02" stroke="#000" stroke-width="1.80"/>
<path d="M197.40 -20.25 L184.90 5.67" stroke="#000" stroke-width="1.80"/>
<path d="M216.60 -12.02 L216.60 0.00 M216.60 -8.59 L219.08 -11.16 L220.73 -12.02 L223.21 -12.02 L224.87 -11.16 L225.69 -8.59 L225.69 0.00 M225.69 -8.59 L228.17 -11.16 L229.83 -12.02 L232.31 -12.02 L233.96 -11.16 L234.79 -8.59 L234.79 0.00 M250.49 -12.02 L250.49 0.00 M250.49 -9.44 L248.84 -11.16 L247.19 -12.02 L244.71 -12.02 L243.05 -11.16 L241.40 -9.44 L240.57 -6.87 L240.57 -5.15 L241.40 -2.58 L243.05 -0.86 L244.71 0.00 L247.19 0.00 L248.84 -0.86 L250.49 -2.58 M266.20 -12.02 L266.20 1.62 L265.37 4.05 L264.55 4.86 L262.89 5.67 L260.41 5.67 L258.76 4.86 M266.20 -9.44 L264.55 -11.16 L262.89 -12.02 L260.41 -12.02 L258.76 -11.16 L257.11 -9.44 L256.28 -6.87 L256.28 -5.15 L257.11 -2.58 L258.76 -0.86 L260.41 0.00 L262.89 0.00 L264.55 -0.86 L266.20 -2.58" stroke="#000" stroke-width="1.80"/>
<path d="M298.20 -20.25 L286.20 5.67" stroke="#000" stroke-width="1.80"/>
<path d="M317.40 -17.01 L317.40 0.00 M317.40 -17.01 L323.76 0.00 M330.11 -17.01 L323.76 0.00 M330.11 -17.01 L330.11 0.00 M336.47 -12.02 L336.47 5.67 M336.47 -9.44 L338.06 -11.16 L339.64 -12.02 L342.03 -12.02 L343.62 -11.16 L345.21 -9.44 L346.00 -6.87 L346.00 -5.15 L345.21 -2.58 L343.62 -0.86 L342.03 0.00 L339.64 0.00 L338.06 -0.86 L336.47 -2.58 M360.30 -9.44 L358.71 -11.16 L357.12 -12.02 L354.74 -12.02 L353.15 -11.16 L351.56 -9.44 L350.77 -6.87 L350.77 -5.15 L351.56 -2.58 L353.15 -0.86 L354.74 0.00 L357.12 0.00 L358.71 -0.86 L360.30 -2.58" stroke="#000" stroke-width="1.80"/>
<path d="M366.01 -19.47 L372.14 -19.47 L368.80 -14.91 L370.47 -14.91 L371.59 -14.34 L372.14 -13.77 L372.70 -12.06 L372.70 -10.92 L372.14 -9.21 L371.03 -8.07 L369.36 -7.50 L367.69 -7.50 L366.01 -8.07 L365.46 -8.64 L364.90 -9.78" stroke="#000" stroke-width="1.80"/>
</g>
<path d="M434.70 390.75 L434.70 406.50 M434.70 390.75 L441.70 406.50 M448.70 390.75 L441.70 406.50 M448.70 390.75 L448.70 406.50" stroke="#000" stroke-width="1.80"/>
<path d="M453.05 405.26 L453.05 411.86 L453.54 413.18 L454.52 414.06 L455.98 414.50 L456.96 414.50 L458.43 414.06 L459.41 413.18 L459.90 411.86 L459.90 405.26 M462.34 405.26 L466.25 414.50 M470.17 405.26 L466.25 414.50 M473.59 414.06 L473.10 414.50 L472.61 414.06 L473.10 413.62 L473.59 414.06 L473.59 414.94 L473.10 415.82 L472.61 416.26 M479.95 405.26 L476.03 414.50 M479.95 405.26 L483.86 414.50 M477.50 411.42 L482.39 411.42 M486.30 405.26 L486.30 414.50 M486.30 405.26 L490.70 405.26 L492.17 405.70 L492.66 406.14 L493.15 407.02 L493.15 407.90 L492.66 408.78 L492.17 409.22 L490.70 409.66 M486.30 409.66 L490.70 409.66 L492.17 410.10 L492.66 410.54 L493.15 411.42 L493.15 412.74 L492.66 413.62 L492.17 414.06 L490.70 414.50 L486.30 414.50" stroke="#000" stroke-width="1.90"/>
</g>
</svg></body></html>
